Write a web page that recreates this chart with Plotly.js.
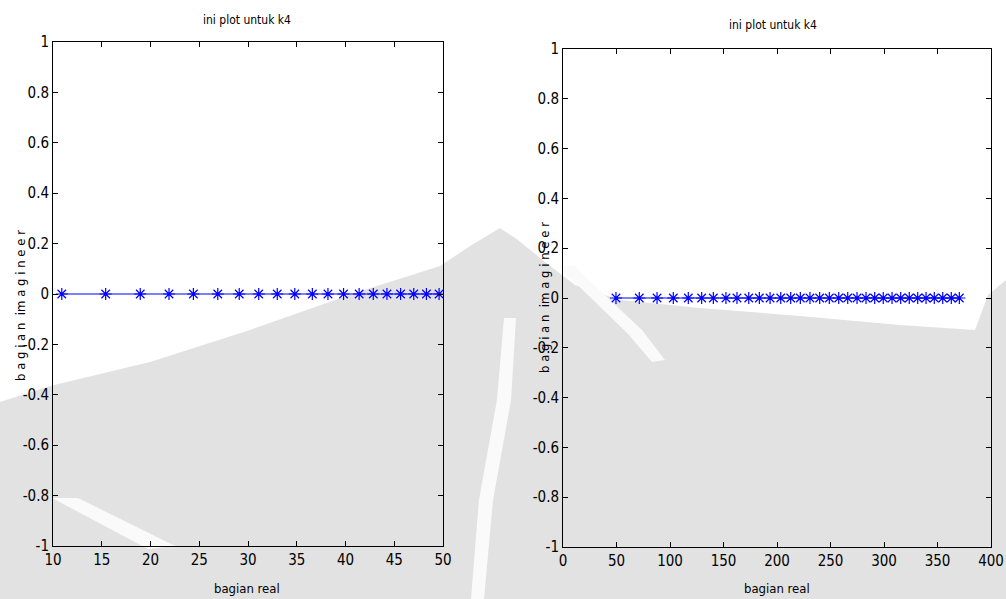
<!DOCTYPE html>
<html>
<head>
<meta charset="utf-8">
<script src="https://cdn.plot.ly/plotly-3.0.1.min.js"></script>
<style>html,body{margin:0;padding:0;background:#fff;}#chart{width:1006px;height:599px;}</style>
</head>
<body>
<div id="chart"></div>
<script>
// Left panel: real parts (imaginary parts all zero)
const leftReal = [10.9, 15.4, 18.95, 21.9, 24.4, 26.9, 29.1, 31.1, 33.0, 34.8, 36.6, 38.2, 39.8, 41.4, 42.85, 44.25, 45.65, 47.0, 48.3, 49.6];
const leftImag = [0, 0, 0, 0, 0, 0, 0, 0, 0, 0, 0, 0, 0, 0, 0, 0, 0, 0, 0, 0];
// Right panel
const rightReal = [49.5, 71.3, 87.9, 103.1, 117.1, 129.6, 140.5, 152.3, 162.6, 173.6, 183.5, 193.5, 203.5, 212.8, 221.8, 230.8, 239.9, 248.9, 257.7, 266.1, 274.8, 283.2, 291.3, 299.3, 307.5, 315.6, 323.6, 331.5, 339.3, 347.0, 354.9, 362.9, 370.4];
const rightImag = [0, 0, 0, 0, 0, 0, 0, 0, 0, 0, 0, 0, 0, 0, 0, 0, 0, 0, 0, 0, 0, 0, 0, 0, 0, 0, 0, 0, 0, 0, 0, 0, 0];

const plotTitle = "ini plot untuk k4";
const xTitle = "bagian real";
const yTitle = "b a g i a n  im a g i n e e r";
const yTicks = [-1, -0.8, -0.6, -0.4, -0.2, 0, 0.2, 0.4, 0.6, 0.8, 1];
const yTickText = ["-1", "-0.8", "-0.6", "-0.4", "-0.2", "0", "0.2", "0.4", "0.6", "0.8", "1"];
const leftXTicks = [10, 15, 20, 25, 30, 35, 40, 45, 50];
const rightXTicks = [0, 50, 100, 150, 200, 250, 300, 350, 400];

const FONT = "'DejaVu Sans Condensed', 'Liberation Sans Narrow', 'Liberation Sans', Arial, sans-serif";
const BLUE = "#0000ff";
const W = 1006, H = 599;

// Faint background watermark (decorative, page-pixel outline converted to paper units)
function pathFromPixels(pts) {
  return "M " + pts.map(p => (p[0] / W).toFixed(4) + "," + (1 - p[1] / H).toFixed(4)).join(" L ") + " Z";
}
const watermarkOutline = [[0, 402], [50, 386], [150, 362], [250, 330], [355, 293], [440, 266], [470, 246], [500, 228], [518, 240], [545, 262], [575, 285], [620, 300], [700, 308], [800, 316], [900, 325], [975, 330], [988, 295], [1006, 280], [1006, 599], [0, 599]];
const whiteBandRight = [[558, 266], [574, 266], [642, 330], [665, 360], [652, 362], [628, 334]];
const whiteBandCenter = [[504, 318], [516, 318], [511, 400], [493, 500], [484, 599], [471, 599], [479, 500], [497, 400]];
const whiteBandLow = [[52, 498], [78, 498], [175, 546], [148, 549]];

const markerStyle = {symbol: "asterisk-open", size: 10, color: BLUE, line: {color: BLUE, width: 1.2}};

const traces = [
  {x: leftReal, y: leftImag, xaxis: "x", yaxis: "y", mode: "lines+markers",
   line: {color: BLUE, width: 1}, marker: markerStyle, cliponaxis: true, hoverinfo: "x+y"},
  {x: rightReal, y: rightImag, xaxis: "x2", yaxis: "y2", mode: "lines+markers",
   line: {color: BLUE, width: 1}, marker: markerStyle, cliponaxis: true, hoverinfo: "x+y"}
];

function axisBase() {
  return {
    showgrid: false, zeroline: false, showline: true, linecolor: "#000", linewidth: 1,
    mirror: "ticks", ticks: "inside", ticklen: 5, tickwidth: 1, tickcolor: "#000",
    tickfont: {family: FONT, size: 15, color: "#000"}, fixedrange: true
  };
}

const layout = {
  width: W, height: H,
  margin: {l: 0, r: 0, t: 0, b: 0},
  paper_bgcolor: "#ffffff", plot_bgcolor: "rgba(0,0,0,0)",
  showlegend: false,
  font: {family: FONT, color: "#000"},
  xaxis: Object.assign(axisBase(), {domain: [53 / W, 443 / W], range: [10, 50], tickvals: leftXTicks, anchor: "y"}),
  yaxis: Object.assign(axisBase(), {domain: [1 - 546 / H, 1 - 42 / H], range: [-1, 1], tickvals: yTicks, ticktext: yTickText, anchor: "x"}),
  xaxis2: Object.assign(axisBase(), {domain: [563 / W, 991 / W], range: [0, 400], tickvals: rightXTicks, anchor: "y2"}),
  yaxis2: Object.assign(axisBase(), {domain: [1 - 547 / H, 1 - 49 / H], range: [-1, 1], tickvals: yTicks, ticktext: yTickText, anchor: "x2"}),
  shapes: [
    {type: "path", xref: "paper", yref: "paper", layer: "below", path: pathFromPixels(watermarkOutline), fillcolor: "#e2e2e2", line: {width: 0}},
    {type: "path", xref: "paper", yref: "paper", layer: "below", path: pathFromPixels(whiteBandRight), fillcolor: "#fafafa", line: {width: 0}},
    {type: "path", xref: "paper", yref: "paper", layer: "below", path: pathFromPixels(whiteBandCenter), fillcolor: "#fafafa", line: {width: 0}},
    {type: "path", xref: "paper", yref: "paper", layer: "below", path: pathFromPixels(whiteBandLow), fillcolor: "#fafafa", line: {width: 0}}
  ],
  annotations: [
    {text: plotTitle, x: 247 / W, y: 1 - 20 / H, xref: "paper", yref: "paper", showarrow: false, xanchor: "center", yanchor: "middle", font: {family: FONT, size: 12}},
    {text: plotTitle, x: 773 / W, y: 1 - 25 / H, xref: "paper", yref: "paper", showarrow: false, xanchor: "center", yanchor: "middle", font: {family: FONT, size: 12}},
    {text: xTitle, x: 247 / W, y: 1 - 588 / H, xref: "paper", yref: "paper", showarrow: false, xanchor: "center", yanchor: "middle", font: {family: FONT, size: 13}},
    {text: xTitle, x: 777 / W, y: 1 - 588 / H, xref: "paper", yref: "paper", showarrow: false, xanchor: "center", yanchor: "middle", font: {family: FONT, size: 13}},
    {text: yTitle, x: 20 / W, y: 1 - 306 / H, xref: "paper", yref: "paper", showarrow: false, textangle: -90, xanchor: "center", yanchor: "middle", font: {family: FONT, size: 13}},
    {text: yTitle, x: 544 / W, y: 1 - 298 / H, xref: "paper", yref: "paper", showarrow: false, textangle: -90, xanchor: "center", yanchor: "middle", font: {family: FONT, size: 13}}
  ]
};

Plotly.newPlot("chart", traces, layout, {displayModeBar: false, staticPlot: true});
</script>
</body>
</html>
